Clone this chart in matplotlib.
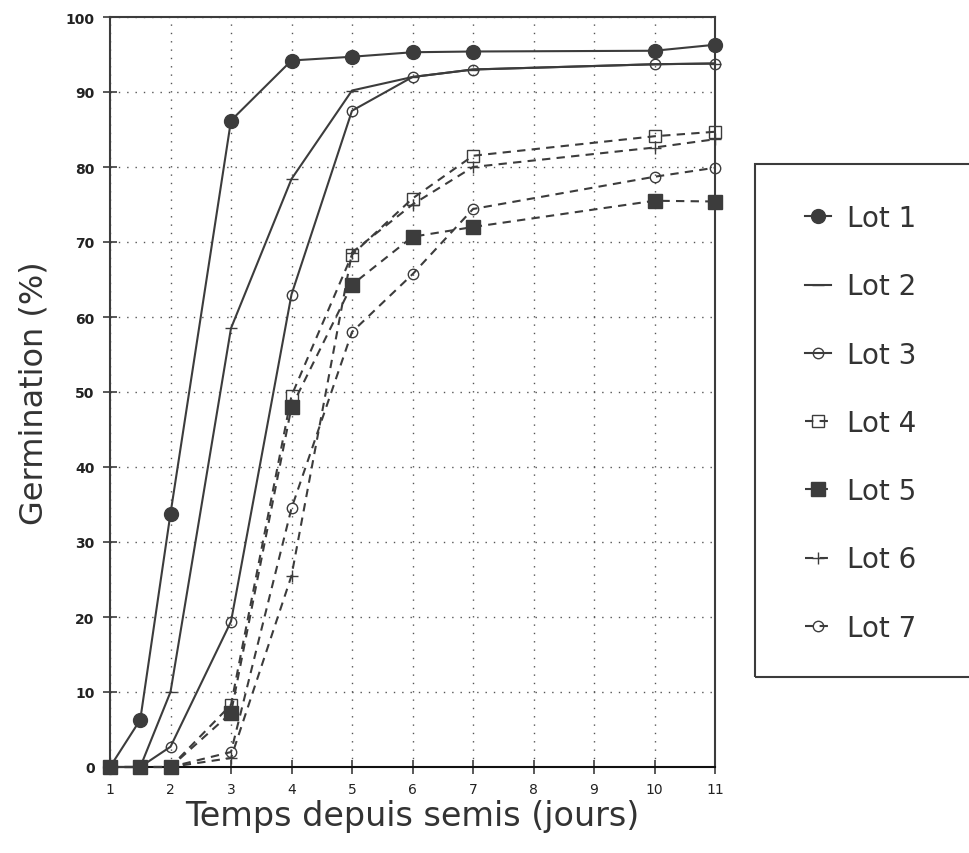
import matplotlib
matplotlib.use("Agg")
import matplotlib.pyplot as plt
from matplotlib.patches import Rectangle

# ---- data ----
days = [1, 1.5, 2, 3, 4, 5, 6, 7, 10, 11]
lot1 = [0, 6.3, 33.8, 86.2, 94.2, 94.7, 95.3, 95.4, 95.5, 96.3]
lot2 = [0, 0, 10.0, 58.5, 78.4, 90.2, 92.0, 93.0, 93.7, 93.8]
lot3 = [0, 0, 2.7, 19.4, 63.0, 87.5, 92.0, 93.0, 93.7, 93.8]
lot4 = [0, 0, 0, 8.3, 49.5, 68.3, 75.8, 81.5, 84.1, 84.7]
lot5 = [0, 0, 0, 7.2, 48.0, 64.3, 70.7, 72.0, 75.5, 75.4]
lot6 = [0, 0, 0, 1.2, 25.5, 68.6, 75.0, 80.0, 82.6, 83.7]
lot7 = [0, 0, 0, 2.0, 34.5, 58.0, 65.7, 74.4, 78.7, 79.9]
labels = ["Lot 1", "Lot 2", "Lot 3", "Lot 4", "Lot 5", "Lot 6", "Lot 7"]
xticks = list(range(1, 12))
yticks = list(range(0, 101, 10))

C = "#3c3c3c"
plt.rcParams['font.family'] = ['DejaVu Sans']

fig = plt.figure(figsize=(9.69, 8.54), dpi=100)
ax = fig.add_axes([110/969, 1-768/854, 605/969, 750/854])

dash = (0, (4, 3))
styles = [
    dict(ls='-', marker='o', ms=10, mfc=C, mec=C),
    dict(ls='-', marker='_', ms=8, mfc=C, mec=C),
    dict(ls='-', marker='o', ms=7.5, mfc='none', mec=C, mew=1.0),
    dict(ls=dash, marker='s', ms=8, mfc='none', mec=C, mew=1.0),
    dict(ls=dash, marker='s', ms=10, mfc=C, mec=C),
    dict(ls=dash, marker='+', ms=9, mfc=C, mec=C, mew=1.0),
    dict(ls=dash, marker='o', ms=7.5, mfc='none', mec=C, mew=1.0),
]
series = [lot1, lot2, lot3, lot4, lot5, lot6, lot7]
handles = []
for ys, st, lab in zip(series, styles, labels):
    h, = ax.plot(days, ys, color=C, lw=1.5, label=lab, clip_on=False, zorder=3, **st)
    handles.append(h)

ax.set_xlim(1, 11)
ax.set_ylim(0, 100)
ax.set_xticks(xticks)
ax.set_yticks(yticks)
ax.set_xticklabels([str(t) for t in xticks], fontsize=10)
ax.set_yticklabels([str(t) for t in yticks], fontsize=10, fontweight='bold')
ax.tick_params(axis='both', direction='inout', length=10, width=1.2, color=C, labelcolor='#222222')
ax.tick_params(axis='x', pad=6)
ax.tick_params(axis='y', pad=6)
ax.grid(True, color='#555555', lw=1.0, ls=(0, (1, 5)))
for s in ax.spines.values():
    s.set_color(C)
    s.set_linewidth(1.5)
ax.spines['bottom'].set_color('#111111')

ax.set_xlabel("Temps depuis semis (jours)", fontsize=24, color='#333333', labelpad=2)
ax.set_ylabel("Germination (%)", fontsize=23, color='#333333', labelpad=12)

# legend box (cut at right edge)
fig.patches.append(Rectangle((755/969, 1-678/854), 0.3, 513/854, transform=fig.transFigure,
                             fill=False, ec=C, lw=1.5, clip_on=False))
leg = fig.legend(handles=handles, labels=labels, loc='upper left',
                 bbox_to_anchor=(805/969, 1-205/854), frameon=False, borderpad=0,
                 borderaxespad=0, fontsize=20, labelspacing=1.45, handlelength=0.95,
                 handletextpad=0.55, labelcolor='#333333')

fig.savefig("out.png", dpi=100)
